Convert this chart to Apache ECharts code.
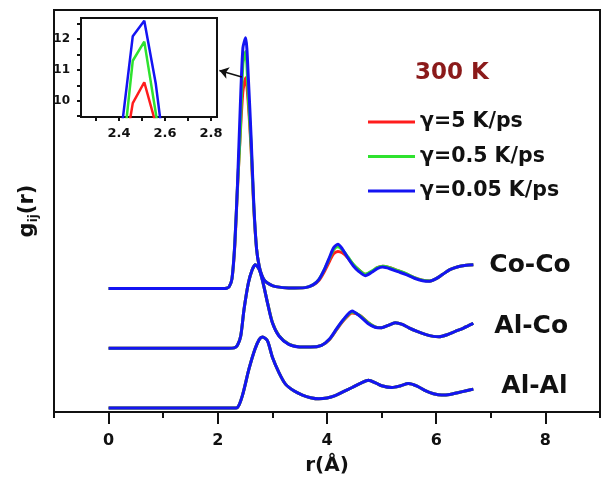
<!DOCTYPE html>
<html>
<head>
<meta charset="utf-8">
<script src="https://cdn.jsdelivr.net/npm/echarts@6.0.0/dist/echarts.min.js"></script>
<style>
  html, body { margin: 0; padding: 0; background: #fff; }
  #chart { width: 604px; height: 481px; }
</style>
</head>
<body>
<div id="chart"></div>
<script>
'use strict';

///// data /////

const gammas = ['γ=5 K/ps', 'γ=0.5 K/ps', 'γ=0.05 K/ps'];
const xTicks = [0, 2, 4, 6, 8];

// Co-Co
const cocoR     = [0, 2.1, 2.16, 2.21, 2.26, 2.31, 2.36, 2.41, 2.46, 2.51, 2.56, 2.61, 2.66, 2.71, 2.76, 2.81, 2.86, 2.96, 3.06, 3.3, 3.6, 3.75, 3.85, 3.95, 4.05, 4.12, 4.2, 4.28, 4.38, 4.48, 4.58, 4.7, 4.82, 4.92, 5.02, 5.15, 5.3, 5.45, 5.6, 5.75, 5.88, 6.0, 6.12, 6.25, 6.4, 6.55, 6.68];
const cocoRed   = [0, 0, 0.02, 0.1, 0.5, 2.1, 5.0, 7.7, 9.92, 10.6, 9.25, 7.0, 4.0, 2.0, 1.1, 0.65, 0.4, 0.2, 0.1, 0.03, 0.05, 0.18, 0.4, 0.85, 1.4, 1.75, 1.87, 1.8, 1.55, 1.2, 0.95, 0.72, 0.85, 1.05, 1.12, 1.05, 0.9, 0.74, 0.55, 0.42, 0.38, 0.5, 0.72, 0.95, 1.1, 1.17, 1.2];
const cocoGreen = [0, 0, 0.02, 0.1, 0.5, 2.2, 5.1, 7.8, 11.3, 11.92, 9.6, 7.2, 4.1, 2.0, 1.1, 0.65, 0.4, 0.2, 0.1, 0.03, 0.05, 0.2, 0.45, 0.95, 1.55, 1.95, 2.1, 1.95, 1.6, 1.22, 0.95, 0.72, 0.88, 1.05, 1.12, 1.05, 0.9, 0.75, 0.55, 0.42, 0.38, 0.5, 0.72, 0.95, 1.1, 1.17, 1.2];
const cocoBlue  = [0, 0, 0.02, 0.1, 0.5, 2.2, 5.2, 9.0, 12.1, 12.6, 10.55, 7.6, 4.2, 2.0, 1.1, 0.65, 0.4, 0.2, 0.1, 0.03, 0.05, 0.2, 0.45, 0.95, 1.6, 2.05, 2.23, 2.0, 1.55, 1.15, 0.87, 0.65, 0.82, 1.0, 1.08, 1.0, 0.85, 0.7, 0.52, 0.4, 0.37, 0.5, 0.72, 0.95, 1.1, 1.17, 1.2];

// Al-Co
const alcoR     = [0, 2.2, 2.3, 2.36, 2.42, 2.48, 2.56, 2.63, 2.69, 2.76, 2.83, 2.91, 3.0, 3.12, 3.3, 3.5, 3.7, 3.9, 4.05, 4.18, 4.3, 4.46, 4.6, 4.75, 4.88, 5.0, 5.12, 5.25, 5.38, 5.5, 5.65, 5.8, 5.95, 6.05, 6.2, 6.35, 6.5, 6.68];
const alcoRed   = [0, 0, 0.02, 0.15, 0.62, 1.95, 3.28, 3.95, 4.2, 3.95, 3.28, 2.3, 1.3, 0.64, 0.21, 0.07, 0.06, 0.15, 0.45, 0.95, 1.38, 1.78, 1.66, 1.3, 1.08, 1.03, 1.15, 1.28, 1.2, 1.03, 0.85, 0.7, 0.6, 0.58, 0.68, 0.85, 1.02, 1.25];
const alcoGreen = [0, 0, 0.02, 0.15, 0.62, 1.95, 3.28, 3.95, 4.2, 3.95, 3.28, 2.3, 1.3, 0.64, 0.21, 0.07, 0.06, 0.15, 0.47, 0.98, 1.42, 1.82, 1.65, 1.3, 1.08, 1.03, 1.15, 1.28, 1.2, 1.03, 0.85, 0.7, 0.6, 0.58, 0.68, 0.85, 1.02, 1.25];
const alcoBlue  = [0, 0, 0.02, 0.15, 0.62, 1.95, 3.28, 3.95, 4.2, 3.95, 3.28, 2.28, 1.28, 0.62, 0.2, 0.07, 0.06, 0.15, 0.48, 1.0, 1.45, 1.88, 1.62, 1.25, 1.06, 1.03, 1.15, 1.28, 1.2, 1.03, 0.85, 0.7, 0.6, 0.58, 0.68, 0.85, 1.02, 1.25];

// Al-Al (three rates overlap)
const alalR     = [0, 2.25, 2.36, 2.45, 2.57, 2.68, 2.76, 2.82, 2.91, 3.0, 3.12, 3.24, 3.4, 3.55, 3.7, 3.85, 4.0, 4.15, 4.3, 4.46, 4.62, 4.76, 4.9, 5.0, 5.19, 5.35, 5.49, 5.65, 5.8, 5.95, 6.1, 6.25, 6.41, 6.55, 6.68];
const alalRed   = [0, 0, 0.03, 0.62, 1.95, 2.95, 3.45, 3.57, 3.37, 2.55, 1.78, 1.2, 0.85, 0.65, 0.52, 0.46, 0.5, 0.62, 0.82, 1.03, 1.25, 1.4, 1.25, 1.12, 1.03, 1.12, 1.23, 1.1, 0.87, 0.72, 0.65, 0.68, 0.78, 0.87, 0.95];
const alalGreen = alalRed;
const alalBlue  = alalRed;

///// chart /////

const colors = ['#ff1c1c', '#2fe22f', '#1414f2'];
const font = 'DejaVu Sans';

const systems = [
  {name: 'Co-Co', r: cocoR, off: 6, vals: [cocoRed, cocoGreen, cocoBlue], lab: [8, 1]},
  {name: 'Al-Co', r: alcoR, off: 3, vals: [alcoRed, alcoGreen, alcoBlue], lab: [13, 3]},
  {name: 'Al-Al', r: alalR, off: 0, vals: [alalRed, alalGreen, alalBlue], lab: [20, -3]},
];

const series = [];
for (let k = 0; k < gammas.length; k++) {
  for (const s of systems) {
    const item = {
      name: gammas[k],
      type: 'line',
      xAxisIndex: 0,
      yAxisIndex: 0,
      data: s.r.map((x, i) => [x, s.vals[k][i] + s.off]),
      showSymbol: false,
      smooth: 0.25,
      lineStyle: {color: colors[k], width: 3},
      itemStyle: {color: colors[k]},
      z: 2 + k,
    };
    if (k == 2) {
      item.endLabel = {
        show: true,
        formatter: s.name,
        offset: s.lab,
        fontFamily: font,
        fontWeight: 'bold',
        fontSize: 25,
        color: '#111',
      };
    }
    series.push(item);
  }
}

// arrow from the Co-Co peak to the inset
series[series.length - 3].markLine = {
  silent: true,
  symbol: ['none', 'arrow'],
  symbolSize: 9,
  label: {show: false},
  lineStyle: {color: '#111', width: 1.6, type: 'solid'},
  data: [[{coord: [2.44, 16.63]}, {coord: [2.03, 16.96]}]],
};

// inset: Co-Co first peak, unsmoothed
for (let k = 0; k < gammas.length; k++) {
  series.push({
    name: gammas[k],
    type: 'line',
    xAxisIndex: 2,
    yAxisIndex: 1,
    data: cocoR.map((x, i) => [x, systems[0].vals[k][i]]),
    showSymbol: false,
    clip: true,
    lineStyle: {color: colors[k], width: 2.5},
    itemStyle: {color: colors[k]},
    z: 10 + k,
  });
}

const option = {
  animation: false,
  backgroundColor: '#fff',
  title: {
    text: '300 K',
    left: 410,
    top: 57,
    textStyle: {fontFamily: font, fontWeight: 'bold', fontSize: 23, color: '#8b1a1a'},
  },
  legend: {
    orient: 'vertical',
    left: 363,
    top: 106,
    itemWidth: 47,
    itemHeight: 3,
    itemGap: 12.5,
    icon: 'rect',
    data: gammas,
    textStyle: {fontFamily: font, fontWeight: 'bold', fontSize: 20.5, lineHeight: 22, color: '#111'},
  },
  grid: [
    {left: 54, right: 4, top: 10, bottom: 68, show: true, borderColor: '#111', borderWidth: 2, backgroundColor: 'transparent'},
    {left: 81, top: 18, width: 136, height: 99, show: true, borderColor: '#111', borderWidth: 2, backgroundColor: '#fff', z: 5},
  ],
  xAxis: [
    {
      gridIndex: 0, type: 'value', min: -1, max: 9, position: 'bottom',
      name: 'r(Å)', nameLocation: 'middle', nameGap: 44,
      nameTextStyle: {fontFamily: font, fontWeight: 'bold', fontSize: 20, color: '#111'},
      axisLine: {onZero: false, lineStyle: {color: '#111', width: 2}},
      axisTick: {customValues: xTicks, length: 12, lineStyle: {color: '#111', width: 2}},
      axisLabel: {customValues: xTicks, margin: 21, fontFamily: font, fontWeight: 'bold', fontSize: 16, color: '#111'},
      splitLine: {show: false},
    },
    {
      gridIndex: 0, type: 'value', min: -1, max: 9, position: 'bottom',
      axisLine: {show: false, onZero: false},
      axisTick: {customValues: [-1, 1, 3, 5, 7, 9], length: 6, lineStyle: {color: '#111', width: 2}},
      axisLabel: {show: false},
      splitLine: {show: false},
    },
    {
      gridIndex: 1, type: 'value', min: 2.235, max: 2.826, position: 'bottom',
      axisLine: {onZero: false, lineStyle: {color: '#111', width: 2}},
      axisTick: {customValues: [2.3, 2.4, 2.5, 2.6, 2.7, 2.8], length: 4, lineStyle: {color: '#111', width: 2}},
      axisLabel: {customValues: [2.4, 2.6, 2.8], margin: 10, fontFamily: font, fontWeight: 'bold', fontSize: 13, color: '#111',
        formatter: v => v.toFixed(1)},
      splitLine: {show: false},
      z: 6,
    },
  ],
  yAxis: [
    {
      gridIndex: 0, type: 'value', min: -0.2, max: 20, position: 'left',
      name: '{g|g}{s|ij}{g|(r)}', nameLocation: 'middle', nameGap: 14, nameRotate: 90,
      nameTextStyle: {
        rich: {
          g: {fontFamily: font, fontWeight: 'bold', fontSize: 21, color: '#111', lineHeight: 24},
          s: {fontFamily: font, fontWeight: 'bold', fontSize: 12, color: '#111', verticalAlign: 'bottom', lineHeight: 14},
        },
      },
      axisLine: {onZero: false, lineStyle: {color: '#111', width: 2}},
      axisTick: {show: false},
      axisLabel: {show: false},
      splitLine: {show: false},
    },
    {
      gridIndex: 1, type: 'value', min: 9.47, max: 12.69, position: 'left',
      axisLine: {onZero: false, lineStyle: {color: '#111', width: 2}},
      axisTick: {customValues: [9.5, 10, 10.5, 11, 11.5, 12, 12.5], length: 4, lineStyle: {color: '#111', width: 2}},
      axisLabel: {customValues: [10, 11, 12], margin: 11, fontFamily: font, fontWeight: 'bold', fontSize: 12, color: '#111'},
      splitLine: {show: false},
      z: 6,
    },
  ],
  series: series,
};

const chart = echarts.init(document.getElementById('chart'), null, {renderer: 'canvas'});
chart.setOption(option);
</script>
</body>
</html>
